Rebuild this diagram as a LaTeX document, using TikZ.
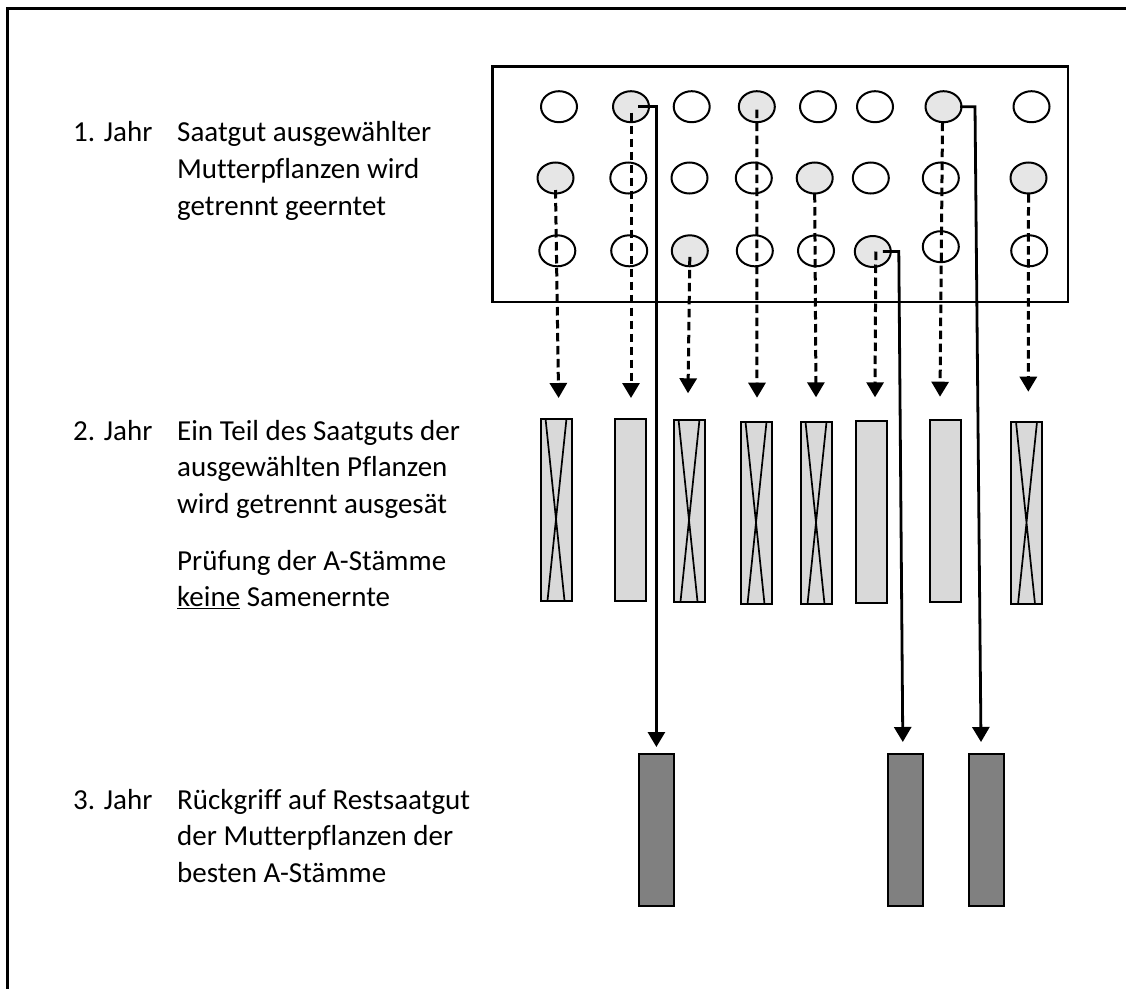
\documentclass[tikz,border=0pt]{standalone}
\usepackage{fontspec}
\setmainfont{Carlito}[Ligatures=NoCommon]
\usetikzlibrary{shapes.geometric, arrows.meta, positioning}
\definecolor{seedgray}{HTML}{E6E6E6}
\definecolor{stgray}{HTML}{D9D9D9}
\definecolor{darkst}{HTML}{808080}

\begin{document}
\begin{tikzpicture}[x=1pt, y=-1pt, font=\fontsize{29}{36.7}\selectfont,
  sd/.style={ellipse,draw,line width=2pt,fill=white,minimum width=36pt,minimum height=31pt,inner sep=0pt},
  sel/.style={sd,fill=seedgray},
  st/.style={draw,line width=2pt,fill=stgray,minimum width=31pt,minimum height=182pt,inner sep=0pt},
  xst/.style={st,path picture={\draw[line width=1.7pt] ([xshift=5pt]path picture bounding box.north west)--([xshift=-7pt]path picture bounding box.south east) ([xshift=-5pt]path picture bounding box.north east)--([xshift=7pt]path picture bounding box.south west);}},
  dk/.style={draw,line width=2pt,fill=darkst,minimum width=35pt,minimum height=152pt,inner sep=0pt},
  dsh/.style={line width=3pt,dash pattern=on 8.5pt off 4.5pt,-{Triangle[length=15pt,width=17pt]}},
  sol/.style={line width=2.8pt,-{Triangle[length=15pt,width=17pt]}},
  yr/.style={anchor=base west,inner sep=0pt},
  txt/.style={anchor=base west,inner sep=0pt,align=left}]
  \useasboundingbox (0,0) rectangle (1126,988);
  \begin{scope}
    \clip (0,0) rectangle (1126,988);
    \draw[line width=3pt] (7,8) rectangle (1140,1000);
  \end{scope}

  % labels (text blocks sit on the baseline of their last line)
  \node[yr](y1) at (73,141.7) {1. Jahr};
  \node[txt](d1) at (177,215.1) {Saatgut ausgewählter\\Mutterpflanzen wird\\getrennt geerntet};
  \node[yr](y2) at (73,440) {2. Jahr};
  \node[txt](d2) at (177,606.8) {Ein Teil des Saatguts der\\ausgewählten Pflanzen\\wird getrennt ausgesät\\[20pt]Prüfung der A-Stämme\\\underline{keine} Samenernte};
  \node[yr](y3) at (73,809) {3. Jahr};
  \node[txt](d3) at (177,882.4) {Rückgriff auf Restsaatgut\\der Mutterpflanzen der\\besten A-Stämme};

  % field of mother plants
  \node[draw,line width=2.5pt,minimum width=575.5pt,minimum height=235.5pt,inner sep=0pt](field) at (780,184.2) {};
  \node[sd] (c11) at (559,106.7) {};
  \node[sel](c12) at (631,106.7) {};
  \node[sd] (c13) at (691.7,106.7) {};
  \node[sel](c14) at (756.8,106.7) {};
  \node[sd] (c15) at (818,106.7) {};
  \node[sd] (c16) at (875,106.7) {};
  \node[sel](c17) at (943.5,106.7) {};
  \node[sd] (c18) at (1031.5,106.7) {};
  \node[sel](c21) at (555.5,178) {};
  \node[sd] (c22) at (628.3,178) {};
  \node[sd] (c23) at (689.5,178) {};
  \node[sd] (c24) at (753.8,178) {};
  \node[sel](c25) at (814.7,178) {};
  \node[sd] (c26) at (870.8,178) {};
  \node[sd] (c27) at (940.8,178) {};
  \node[sel](c28) at (1028.5,178) {};
  \node[sd] (c31) at (557.3,250.8) {};
  \node[sd] (c32) at (629.2,250.8) {};
  \node[sel](c33) at (689.8,250.8) {};
  \node[sd] (c34) at (754.8,250.8) {};
  \node[sd] (c35) at (816,250.8) {};
  \node[sel](c36) at (872.8,251.5) {};
  \node[sd] (c37) at (940.8,246.7) {};
  \node[sd] (c38) at (1029.2,250.8) {};

  % A-Staemme
  \node[xst](a1) at (556,509.5) {};
  \node[st] (a2) at (630.5,509.5) {};
  \node[xst](a3) at (689,510.5) {};
  \node[xst](a4) at (756,513) {};
  \node[xst](a5) at (816,513) {};
  \node[st] (a6) at (871,512.3) {};
  \node[st] (a7) at (945.5,510.5) {};
  \node[xst](a8) at (1026.5,513) {};

  % Restsaatgut
  \node[dk](b1) at (656.4,830) {};
  \node[dk](b2) at (905.3,830) {};
  \node[dk](b3) at (986.5,830) {};

  \coordinate (t1) at (558.6,398);
  \coordinate (t2) at (631,398);
  \coordinate (t3) at (688,393.3);
  \coordinate (t4) at (757,397.7);
  \coordinate (t5) at (816,397.3);
  \coordinate (t6) at (875,397.3);
  \coordinate (t7) at (940,396.7);
  \coordinate (t8) at (1028.3,391.7);

  \draw[dsh]([yshift=-12pt]c21.center)--(t1);
  \draw[dsh]([yshift=-6pt]c12.center)--(t2);
  \draw[dsh]([yshift=-6pt]c33.center)--(t3);
  \draw[dsh]([yshift=-3pt]c14.center)--(t4);
  \draw[dsh]([yshift=-16pt]c25.center)--(t5);
  \draw[dsh]([xshift=3pt]c36.center)--(t6);
  \draw[dsh]([xshift=-1pt,yshift=-16pt]c17.center)--(t7);
  \draw[dsh]([yshift=-16pt]c28.center)--(t8);

  \draw[sol]([xshift=7pt]c12.center)-|([yshift=6pt]b1.north);
  \draw[sol]([xshift=10pt]c36.center)--++(16,0)--([xshift=-2.5pt,yshift=11pt]b2.north);
  \draw[sol]([xshift=16.5pt]c17.center)--++(15,0)--([xshift=-5.5pt,yshift=11pt]b3.north);
\end{tikzpicture}
\end{document}
